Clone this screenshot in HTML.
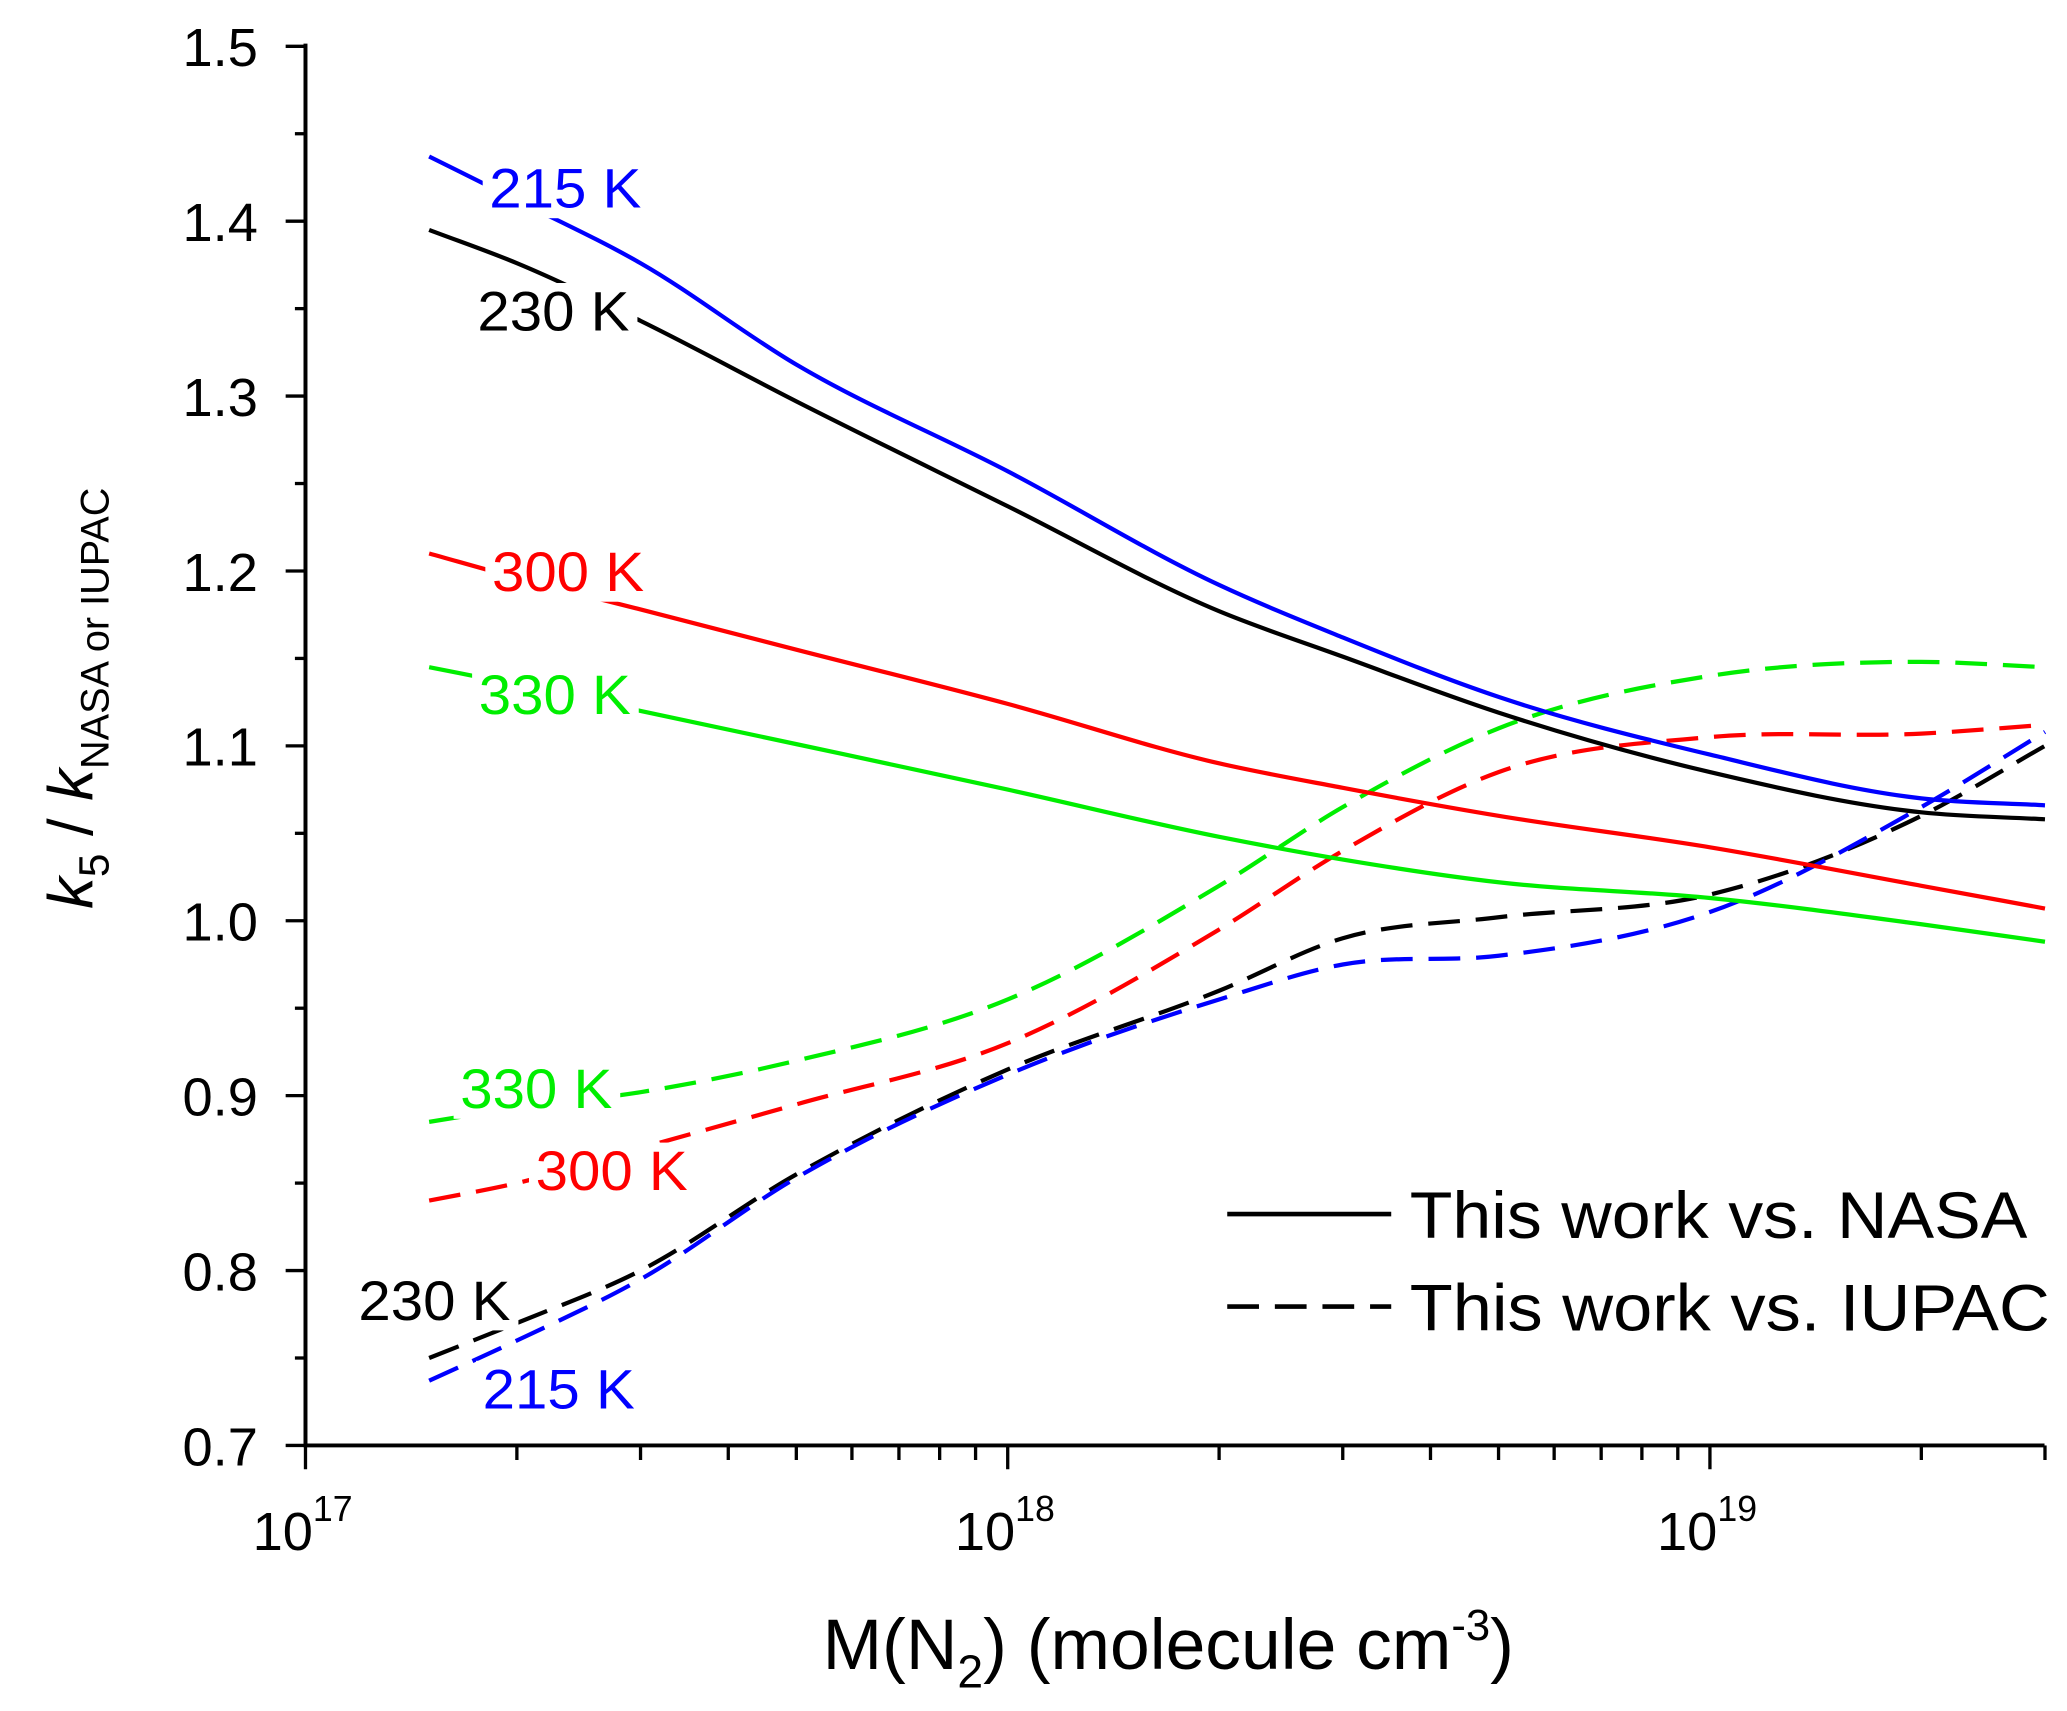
<!DOCTYPE html>
<html><head><meta charset="utf-8"><style>html,body{margin:0;padding:0;background:#fff}svg{display:block}text{font-family:"Liberation Sans",sans-serif}</style></head>
<body>
<svg id="chart" width="2067" height="1711" viewBox="0 0 1563 1293.8" xmlns="http://www.w3.org/2000/svg">
<g id="series"></g>
<g id="labels"></g>
<g id="axes"></g>
<text x="622" y="1262" font-size="54">M(N<tspan font-size="35" dy="14">2</tspan><tspan dy="-14">) (molecule cm</tspan><tspan font-size="33" dy="-22">-3</tspan><tspan dy="22">)</tspan></text>
<text transform="translate(70,528) rotate(-90)" font-size="48" text-anchor="middle"><tspan font-style="italic">k</tspan><tspan font-size="32" dy="12">5</tspan><tspan dy="-12"> / </tspan><tspan font-style="italic">k</tspan><tspan font-size="30" dy="12">NASA or IUPAC</tspan></text>
<g>
<line x1="928" y1="918" x2="1052" y2="918" stroke="#000" stroke-width="3.5"/>
<text x="1066" y="936" font-size="50" textLength="467" lengthAdjust="spacingAndGlyphs">This work vs. NASA</text>
<line x1="928" y1="988" x2="1052" y2="988" stroke="#000" stroke-width="3.5" stroke-dasharray="24,12"/>
<text x="1066" y="1006" font-size="50" textLength="484" lengthAdjust="spacingAndGlyphs">This work vs. IUPAC</text>
</g>
</svg>
<script>
const xVals = [1.5e17, 2e17, 3e17, 5e17, 1e18, 2e18, 3e18, 5e18, 1e19, 2e19, 3e19];
const nasa215 = [1.437, 1.412, 1.376, 1.318, 1.257, 1.192, 1.162, 1.128, 1.095, 1.07, 1.066];
const nasa230 = [1.395, 1.376, 1.343, 1.297, 1.237, 1.177, 1.151, 1.119, 1.085, 1.062, 1.058];
const nasa300 = [1.21, 1.196, 1.178, 1.155, 1.124, 1.09, 1.076, 1.06, 1.042, 1.02, 1.007];
const nasa330 = [1.145, 1.135, 1.12, 1.101, 1.075, 1.048, 1.035, 1.022, 1.013, 0.998, 0.988];
const iupac330 = [0.885, 0.893, 0.902, 0.92, 0.955, 1.02, 1.065, 1.11, 1.14, 1.148, 1.145];
const iupac300 = [0.84, 0.85, 0.87, 0.895, 0.93, 0.995, 1.04, 1.085, 1.105, 1.107, 1.112];
const iupac230 = [0.75, 0.77, 0.80, 0.855, 0.915, 0.96, 0.99, 1.002, 1.015, 1.06, 1.10];
const iupac215 = [0.737, 0.76, 0.795, 0.853, 0.912, 0.955, 0.975, 0.98, 1.005, 1.065, 1.108];
const yTicks = [0.7, 0.8, 0.9, 1.0, 1.1, 1.2, 1.3, 1.4, 1.5];
const xDecades = [17, 18, 19];

const NS = 'http://www.w3.org/2000/svg';
function X(v){ return 231 + (Math.log10(v) - 17) * 531; }
function Y(v){ return 1093 - (v - 0.7) * 1322.5; }
function mk(tag, attrs, parent){ const e = document.createElementNS(NS, tag); for (const k in attrs) e.setAttribute(k, attrs[k]); parent.appendChild(e); return e; }

const series = document.getElementById('series');
function pathFor(vals){
  const p = xVals.map((x,i)=>[X(x), Y(vals[i])]);
  const n = p.length;
  const s = [];
  for (let i=0;i<n-1;i++) s.push((p[i+1][1]-p[i][1])/(p[i+1][0]-p[i][0]));
  const m = [];
  for (let i=0;i<n;i++){
    if (i===0) m.push(s[0]);
    else if (i===n-1) m.push(s[n-2]);
    else {
      const h0=p[i][0]-p[i-1][0], h1=p[i+1][0]-p[i][0];
      m.push((s[i-1]*h1 + s[i]*h0)/(h0+h1));
    }
  }
  let d = 'M' + p[0][0] + ',' + p[0][1];
  for (let i=0;i<n-1;i++){
    const h = p[i+1][0]-p[i][0];
    d += ' C'+(p[i][0]+h/3)+','+(p[i][1]+m[i]*h/3)+' '+(p[i+1][0]-h/3)+','+(p[i+1][1]-m[i+1]*h/3)+' '+p[i+1][0]+','+p[i+1][1];
  }
  return d;
}
const defs = [
  [iupac330,'#00ee00',true,'line-iupac-330k'],
  [iupac300,'#ff0000',true,'line-iupac-300k'],
  [iupac230,'#000000',true,'line-iupac-230k'],
  [iupac215,'#0000ff',true,'line-iupac-215k'],
  [nasa330,'#00ee00',false,'line-nasa-330k'],
  [nasa300,'#ff0000',false,'line-nasa-300k'],
  [nasa230,'#000000',false,'line-nasa-230k'],
  [nasa215,'#0000ff',false,'line-nasa-215k']
];
defs.forEach(([vals,col,dash,name])=>{
  const el = mk('path',{d:pathFor(vals),fill:'none',stroke:col,'stroke-width':3.2,'stroke-dasharray':dash?'24,12':'none'},series);
  
  
});

const labels = document.getElementById('labels');
const labs = [
  ['215 K','#0000ff',370,157,'label-nasa-215k'],
  ['230 K','#000000',361,250,'label-nasa-230k'],
  ['300 K','#ff0000',372,447,'label-nasa-300k'],
  ['330 K','#00ee00',362,540,'label-nasa-330k'],
  ['330 K','#00ee00',348,838,'label-iupac-330k'],
  ['300 K','#ff0000',405,900,'label-iupac-300k'],
  ['230 K','#000000',271,998,'label-iupac-230k'],
  ['215 K','#0000ff',365,1065,'label-iupac-215k']
];
labs.forEach(([t,col,x,y,name])=>{
  mk('rect',{x:x-5,y:y-36,width:126,height:44,fill:'#fff'},labels);
  const el = mk('text',{x:x,y:y,fill:col,'font-size':42,textLength:115,lengthAdjust:'spacingAndGlyphs'},labels);
  el.textContent = t;
  
  
});

const axes = document.getElementById('axes');
mk('line',{x1:231,y1:33,x2:231,y2:1093,stroke:'#000','stroke-width':3},axes);
mk('line',{x1:229.5,y1:1093,x2:1546,y2:1093,stroke:'#000','stroke-width':3},axes);
yTicks.forEach(v=>{
  mk('line',{x1:216,y1:Y(v),x2:231,y2:Y(v),stroke:'#000','stroke-width':2.5},axes);
  if (v < 1.5) mk('line',{x1:223,y1:Y(v+0.05),x2:231,y2:Y(v+0.05),stroke:'#000','stroke-width':2.5},axes);
  const t = mk('text',{x:195,y:Y(v)+15,'font-size':41,'text-anchor':'end'},axes);
  t.textContent = v.toFixed(1);
  
  
});
xDecades.forEach(d=>{
  const x0 = X(Math.pow(10,d));
  mk('line',{x1:x0,y1:1093,x2:x0,y2:1111,stroke:'#000','stroke-width':2.5},axes);
  const t = mk('text',{x:x0-40,y:1172,'font-size':41},axes);
  t.innerHTML = '10<tspan font-size="27" dy="-22">'+d+'</tspan>';
  
  
  for (let m=2;m<=9;m++){
    const v = m*Math.pow(10,d);
    if (v > 3.01e19) break;
    mk('line',{x1:X(v),y1:1093,x2:X(v),y2:1104,stroke:'#000','stroke-width':2.5},axes);
  }
});
</script>
</body></html>
